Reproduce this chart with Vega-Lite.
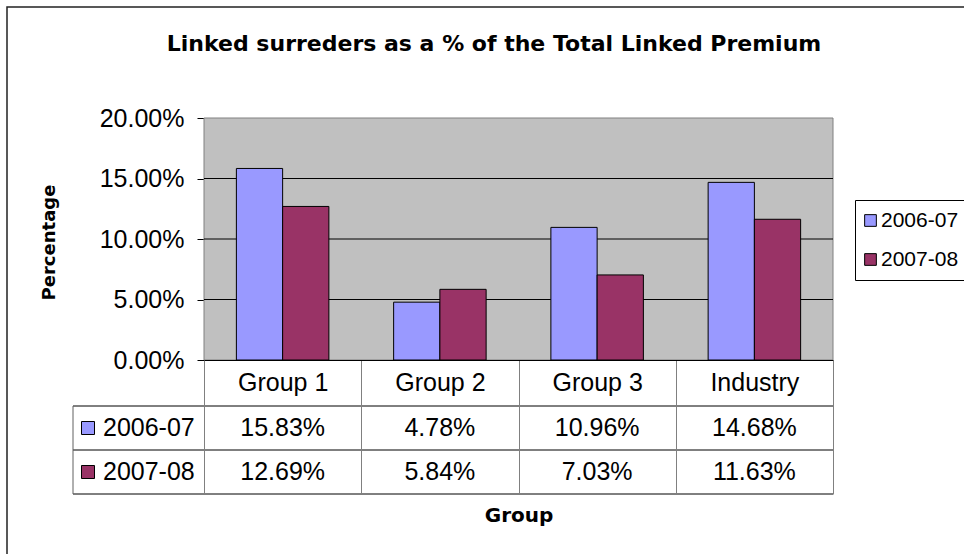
{
  "$schema": "https://vega.github.io/schema/vega-lite/v6.json",
  "autosize": {"type": "none"},
  "padding": {"left": 7, "top": 7, "right": -1, "bottom": -1},
  "width": 958,
  "height": 548,
  "background": "#ffffff",
  "view": {"stroke": "#222222", "strokeWidth": 1.5, "fill": "#ffffff"},
  "title": {
    "text": "Linked surreders as a % of the Total Linked Premium",
    "font": "DejaVu Sans",
    "fontSize": 22,
    "fontWeight": "bold",
    "color": "#000000",
    "anchor": "middle",
    "frame": "group",
    "offset": 0,
    "baseline": "alphabetic",
    "dx": 8,
    "dy": 66
  },
  "data": {
    "values": [
      {"group": "Group 1", "series": "2006-07", "value": 0.1583},
      {"group": "Group 2", "series": "2006-07", "value": 0.0478},
      {"group": "Group 3", "series": "2006-07", "value": 0.1096},
      {"group": "Industry", "series": "2006-07", "value": 0.1468},
      {"group": "Group 1", "series": "2007-08", "value": 0.1269},
      {"group": "Group 2", "series": "2007-08", "value": 0.0584},
      {"group": "Group 3", "series": "2007-08", "value": 0.0703},
      {"group": "Industry", "series": "2007-08", "value": 0.1163}
    ]
  },
  "layer": [
    {
      "layer": [
        {
          "data": {"values": [{"area": "plot"}]},
          "mark": {"type": "rect", "fill": "#C0C0C0", "stroke": "#808080", "strokeWidth": 1},
          "encoding": {
            "x": {"datum": "Group 1", "bandPosition": 0},
            "x2": {"datum": "Industry", "bandPosition": 1},
            "y": {"datum": 0},
            "y2": {"datum": 0.2}
          }
        },
        {
          "data": {"values": [{"t": 0.05}, {"t": 0.1}, {"t": 0.15}]},
          "mark": {"type": "rule", "color": "#000000", "strokeWidth": 1},
          "encoding": {
            "y": {"field": "t", "type": "quantitative"},
            "x": {"datum": "Group 1", "bandPosition": 0},
            "x2": {"datum": "Industry", "bandPosition": 1}
          }
        },
        {
          "mark": {"type": "bar", "stroke": "#000000", "strokeWidth": 1, "opacity": 1},
          "encoding": {
            "x": {
              "field": "group",
              "type": "nominal",
              "sort": ["Group 1", "Group 2", "Group 3", "Industry"],
              "scale": {"domain": ["Group 1", "Group 2", "Group 3", "Industry"], "range": [197, 826], "paddingInner": 0, "paddingOuter": 0},
              "axis": {
                "orient": "bottom",
                "offset": -195,
                "domain": true,
                "domainColor": "#000000",
                "domainWidth": 1,
                "ticks": true,
                "tickBand": "extent",
                "tickSize": 134,
                "tickColor": "#808080",
                "tickWidth": 1,
                "grid": false,
                "labelAngle": 0,
                "labelAlign": "center",
                "labelFont": "Liberation Sans",
                "labelFontSize": 25,
                "labelColor": "#000000",
                "labelPadding": -112,
                "labelBaseline": "middle",
                "title": "Group",
                "titleFont": "DejaVu Sans",
                "titleFontSize": 20,
                "titleFontWeight": "bold",
                "titleColor": "#000000",
                "titleY": 155,
                "titleBaseline": "middle"
              }
            },
            "xOffset": {
              "field": "series",
              "type": "nominal",
              "scale": {"paddingInner": 0, "paddingOuter": 0.7}
            },
            "y": {
              "field": "value",
              "type": "quantitative",
              "scale": {"domain": [0, 0.2], "range": [353, 111], "nice": false, "zero": true},
              "axis": {
                "orient": "left",
                "offset": -197,
                "domain": false,
                "ticks": true,
                "tickSize": 7,
                "tickColor": "#000000",
                "values": [0, 0.05, 0.1, 0.15, 0.2],
                "format": ".2%",
                "grid": false,
                "labelFont": "Liberation Sans",
                "labelFontSize": 25,
                "labelColor": "#000000",
                "labelPadding": 13,
                "title": "Percentage",
                "titleFont": "DejaVu Sans",
                "titleFontSize": 18,
                "titleFontWeight": "bold",
                "titleColor": "#000000",
                "titleAngle": -90,
                "titleX": -155,
                "titleY": 235,
                "titleAlign": "center",
                "titleBaseline": "middle"
              }
            },
            "fill": {
              "field": "series",
              "type": "nominal",
              "scale": {"domain": ["2006-07", "2007-08"], "range": ["#9999FF", "#993366"]},
              "legend": {
                "orient": "none",
                "legendX": 848,
                "legendY": 193,
                "title": null,
                "direction": "vertical",
                "strokeColor": "#000000",
                "fillColor": "#ffffff",
                "padding": 10,
                "symbolType": "square",
                "symbolSize": 137,
                "symbolOffset": -5,
                "symbolStrokeColor": "#000000",
                "symbolStrokeWidth": 1,
                "symbolOpacity": 1,
                "labelFont": "Liberation Sans",
                "labelFontSize": 21,
                "labelColor": "#000000",
                "labelOffset": 0,
                "rowPadding": 17
              }
            }
          }
        }
      ]
    },
    {
      "layer": [
        {
          "mark": {"type": "text", "font": "Liberation Sans", "fontSize": 25, "color": "#000000", "align": "center", "baseline": "middle"},
          "encoding": {
            "x": {"field": "group", "type": "nominal"},
            "y": {
              "field": "series",
              "type": "nominal",
              "scale": {"domain": ["2006-07", "2007-08"], "range": [399, 487], "paddingInner": 0, "paddingOuter": 0},
              "axis": null
            },
            "text": {"field": "value", "type": "quantitative", "format": ".2%"}
          }
        },
        {
          "data": {"values": [{"series": "2006-07"}, {"series": "2007-08"}]},
          "mark": {"type": "rule", "color": "#000000", "strokeWidth": 1, "xOffset": -131},
          "encoding": {
            "y": {"field": "series", "type": "nominal", "bandPosition": 0, "axis": null},
            "x": {"datum": "Group 1", "bandPosition": 0},
            "x2": {"datum": "Industry", "bandPosition": 1}
          }
        },
        {
          "data": {"values": [{"series": "2007-08"}]},
          "mark": {"type": "rule", "color": "#000000", "strokeWidth": 1, "xOffset": -131},
          "encoding": {
            "y": {"field": "series", "type": "nominal", "bandPosition": 1, "axis": null},
            "x": {"datum": "Group 1", "bandPosition": 0},
            "x2": {"datum": "Industry", "bandPosition": 1}
          }
        },
        {
          "data": {"values": [{"edge": "left"}]},
          "mark": {"type": "rule", "color": "#606060", "strokeWidth": 1, "xOffset": -131},
          "encoding": {
            "x": {"datum": "Group 1", "bandPosition": 0},
            "y": {"datum": "2006-07", "bandPosition": 0, "axis": null},
            "y2": {"datum": "2007-08", "bandPosition": 1}
          }
        },
        {
          "data": {"values": [{"series": "2006-07"}, {"series": "2007-08"}]},
          "mark": {"type": "square", "size": 169, "stroke": "#000000", "strokeWidth": 1, "opacity": 1, "fillOpacity": 1, "filled": true, "xOffset": -116},
          "encoding": {
            "x": {"datum": "Group 1", "bandPosition": 0},
            "y": {"field": "series", "type": "nominal", "axis": null},
            "fill": {"field": "series", "type": "nominal"}
          }
        },
        {
          "data": {"values": [{"series": "2006-07"}, {"series": "2007-08"}]},
          "mark": {"type": "text", "font": "Liberation Sans", "fontSize": 25, "color": "#000000", "align": "left", "baseline": "middle", "dx": -101},
          "encoding": {
            "x": {"datum": "Group 1", "bandPosition": 0},
            "y": {"field": "series", "type": "nominal", "axis": null},
            "text": {"field": "series", "type": "nominal"}
          }
        }
      ]
    }
  ],
  "resolve": {"scale": {"y": "independent"}}
}
